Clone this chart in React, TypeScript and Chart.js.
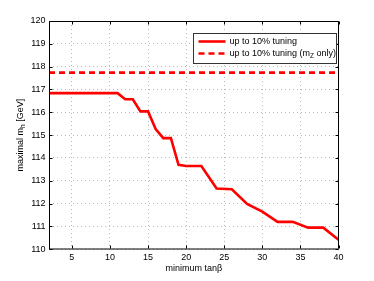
import React, { useEffect, useRef } from "react";
import { Chart, registerables } from "chart.js";

Chart.register(...registerables);

// ---- data ----
const tanBeta = [2, 11, 12, 13, 14, 15, 16, 17, 18, 19, 20, 22, 24, 26, 28, 30, 32, 34, 36, 38, 40];
const maxMh = [116.84, 116.84, 116.57, 116.57, 116.04, 116.04, 115.27, 114.87, 114.87, 113.7, 113.65, 113.65, 112.66, 112.63, 111.99, 111.65, 111.2, 111.2, 110.95, 110.95, 110.42];
const mzOnlyTanBeta = [2, 40];
const mzOnlyMaxMh = [117.74, 117.74];
const xTicks = [5, 10, 15, 20, 25, 30, 35, 40];
const yTicks = [110, 111, 112, 113, 114, 115, 116, 117, 118, 119, 120];
const seriesLabels = ["up to 10% tuning", "up to 10% tuning (m_Z only)"];
const xTitle = "minimum tanβ";
const yTitle = "maximal m_h [GeV]";

const FONT = "'Liberation Sans', Arial, Helvetica, sans-serif";
const FS = 9;

function richParts(text: string) {
  const parts: { t: string; sub: boolean }[] = [];
  const re = /_(\w)/g;
  let last = 0;
  let m: RegExpExecArray | null;
  while ((m = re.exec(text))) {
    if (m.index > last) parts.push({ t: text.slice(last, m.index), sub: false });
    parts.push({ t: m[1], sub: true });
    last = m.index + m[0].length;
  }
  if (last < text.length) parts.push({ t: text.slice(last), sub: false });
  return parts;
}

function richWidth(ctx: CanvasRenderingContext2D, text: string, size: number) {
  let w = 0;
  for (const p of richParts(text)) {
    ctx.font = `${p.sub ? size * 0.72 : size}px ${FONT}`;
    w += ctx.measureText(p.t).width;
  }
  return w;
}

function drawRich(ctx: CanvasRenderingContext2D, text: string, x: number, y: number, size: number) {
  let cx = x;
  for (const p of richParts(text)) {
    const s = p.sub ? size * 0.72 : size;
    ctx.font = `${s}px ${FONT}`;
    ctx.fillText(p.t, cx, p.sub ? y + size * 0.3 : y);
    cx += ctx.measureText(p.t).width;
  }
}

const framePlugin = {
  id: "frame",
  afterDraw(chart: any) {
    const ctx: CanvasRenderingContext2D = chart.ctx;
    const { left, right, top, bottom } = chart.chartArea;
    const xs = chart.scales.x;
    const ys = chart.scales.y;
    const L = Math.round(left) + 0.5;
    const R = Math.round(right) - 0.5;
    const T = Math.round(top) + 0.5;
    const B = Math.round(bottom) - 0.5;
    ctx.save();
    ctx.strokeStyle = "#000";
    ctx.lineWidth = 1;
    ctx.setLineDash([]);
    ctx.beginPath();
    ctx.moveTo(L, T);
    ctx.lineTo(R, T);
    ctx.lineTo(R, B);
    ctx.moveTo(L, T);
    ctx.lineTo(L, B + 0.5);
    ctx.stroke();
    // bottom axis: slightly soft, as in the reference
    ctx.beginPath();
    ctx.moveTo(L - 0.5, Math.round(bottom));
    ctx.lineTo(R + 0.5, Math.round(bottom));
    ctx.stroke();
    const tl = 3;
    ctx.beginPath();
    for (const v of xTicks) {
      const px = Math.round(xs.getPixelForValue(v)) + 0.5;
      ctx.moveTo(px, B);
      ctx.lineTo(px, B - tl);
      ctx.moveTo(px, T);
      ctx.lineTo(px, T + tl);
    }
    for (const v of yTicks) {
      const py = Math.round(ys.getPixelForValue(v)) + 0.5;
      ctx.moveTo(L, py);
      ctx.lineTo(L + tl, py);
      ctx.moveTo(R, py);
      ctx.lineTo(R - tl, py);
    }
    ctx.stroke();

    // legend
    const bw = 143;
    const bh = 30;
    const bx = Math.round(right - 3 - bw) + 0.5;
    const by = Math.round(top + 12) + 0.5;
    ctx.fillStyle = "#fff";
    ctx.fillRect(bx, by, bw, bh);
    ctx.strokeStyle = "#333";
    ctx.lineWidth = 1;
    ctx.strokeRect(bx, by, bw, bh);
    chart.data.datasets.forEach((ds: any, i: number) => {
      const ry = by + 8 + i * 12;
      ctx.strokeStyle = ds.borderColor;
      ctx.lineWidth = ds.borderWidth;
      ctx.setLineDash(ds.borderDash || []);
      ctx.beginPath();
      ctx.moveTo(bx + 5, ry);
      ctx.lineTo(bx + 32, ry);
      ctx.stroke();
      ctx.setLineDash([]);
      ctx.fillStyle = "#000";
      ctx.textBaseline = "middle";
      ctx.textAlign = "left";
      drawRich(ctx, ds.label, bx + 36, ry + 0.5, FS);
    });

    // axis titles
    ctx.fillStyle = "#000";
    ctx.textBaseline = "alphabetic";
    ctx.textAlign = "left";
    ctx.font = `${FS}px ${FONT}`;
    const xw = ctx.measureText(xTitle).width;
    ctx.fillText(xTitle, (left + right) / 2 - xw / 2, 271);
    const yw = richWidth(ctx, yTitle, FS);
    ctx.save();
    ctx.translate(22.5, (top + bottom) / 2);
    ctx.rotate(-Math.PI / 2);
    drawRich(ctx, yTitle, -yw / 2, 0, FS);
    ctx.restore();
    ctx.restore();
  },
};

export default function App() {
  const ref = useRef<HTMLCanvasElement | null>(null);
  useEffect(() => {
    if (!ref.current) return;
    const chart = new Chart(ref.current, {
      type: "line",
      data: {
        datasets: [
          {
            label: seriesLabels[0],
            data: tanBeta.map((x, i) => ({ x, y: maxMh[i] })),
            borderColor: "#ff0000",
            borderWidth: 2.6,
            pointRadius: 0,
            tension: 0,
            fill: false,
          },
          {
            label: seriesLabels[1],
            data: mzOnlyTanBeta.map((x, i) => ({ x, y: mzOnlyMaxMh[i] })),
            borderColor: "#ff0000",
            borderWidth: 2.6,
            borderDash: [6, 4],
            pointRadius: 0,
            tension: 0,
            fill: false,
          },
        ],
      },
      options: {
        animation: false,
        responsive: false,
        devicePixelRatio: 1,
        layout: { padding: { left: 0, top: 21, right: 35.5, bottom: 0 } },
        plugins: { legend: { display: false }, tooltip: { enabled: false } },
        scales: {
          x: {
            type: "linear",
            min: 2,
            max: 40,
            afterBuildTicks: (s: any) => {
              s.ticks = xTicks.map((v) => ({ value: v }));
            },
            afterFit: (s: any) => {
              s.height = 31.7;
            },
            ticks: { font: { family: FONT, size: FS }, color: "#000", padding: 3, maxRotation: 0, autoSkip: false },
            grid: { color: "#b8b8b8", lineWidth: 1, drawTicks: false, tickLength: 0 },
            border: { display: false, dash: [1, 3] },
          },
          y: {
            type: "linear",
            min: 110,
            max: 120,
            afterBuildTicks: (s: any) => {
              s.ticks = yTicks.map((v) => ({ value: v }));
            },
            afterFit: (s: any) => {
              s.width = 49;
            },
            ticks: { font: { family: FONT, size: FS }, color: "#000", padding: 3.5, autoSkip: false },
            grid: { color: "#b8b8b8", lineWidth: 1, drawTicks: false, tickLength: 0 },
            border: { display: false, dash: [1, 3] },
          },
        },
      },
      plugins: [framePlugin],
    } as any);
    return () => chart.destroy();
  }, []);
  return (
    <div style={{ position: "fixed", left: 0, top: 0, width: 374, height: 281, background: "#fff" }}>
      <canvas ref={ref} width={374} height={281} style={{ width: 374, height: 281 }} />
    </div>
  );
}
